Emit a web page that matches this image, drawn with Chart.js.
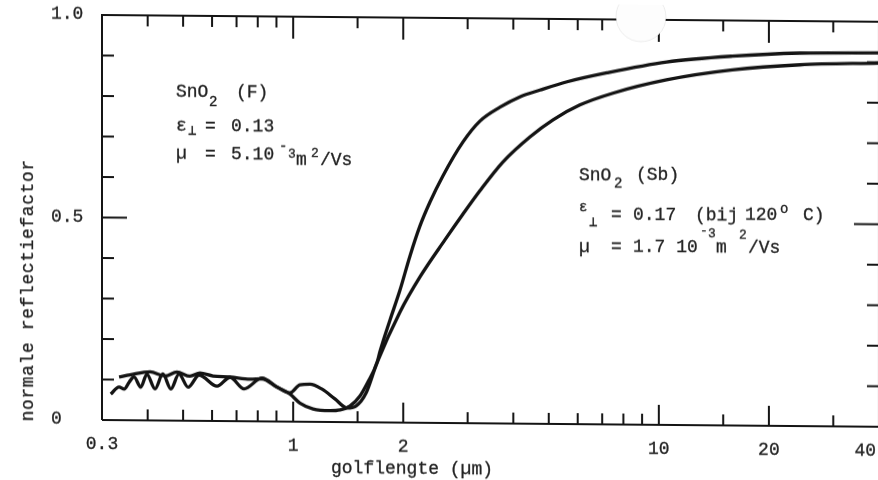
<!DOCTYPE html>
<html>
<head>
<meta charset="utf-8">
<script src="https://cdn.jsdelivr.net/npm/chart.js@4.4.1/dist/chart.umd.min.js"></script>
<style>
  html, body { margin: 0; padding: 0; background: #fff; overflow: hidden; }
  #wrap { width: 878px; height: 480px; overflow: hidden; }
  /* the typed sheet sits a little crooked on the scanner */
  canvas { display: block; transform: skewY(0.5deg); transform-origin: 102px 0; }
</style>
</head>
<body>
<div id="wrap"><canvas id="refl" width="884" height="480"></canvas></div>
<script>
// wavelength in µm, normal reflectance (0..1)
const lambdaF = [0.317, 0.334, 0.345, 0.356, 0.367, 0.383, 0.398, 0.419, 0.440, 0.463, 0.487, 0.516, 0.553,
  0.619, 0.672, 0.734, 0.822, 0.903, 0.980, 1.043, 1.133, 1.261, 1.343, 1.430, 1.523, 1.602, 1.695, 1.726,
  1.840, 1.959, 2.087, 2.222, 2.366, 2.567, 2.912, 3.24, 3.68, 4.17, 4.73, 5.61, 7.21, 10.5, 15.9, 24.3, 40];
const reflF = [0.064, 0.082, 0.077, 0.094, 0.107, 0.082, 0.114, 0.078, 0.115, 0.078, 0.115, 0.083, 0.113,
  0.086, 0.108, 0.080, 0.107, 0.085, 0.068, 0.046, 0.032, 0.028, 0.030, 0.040, 0.065, 0.100, 0.147, 0.174,
  0.253, 0.327, 0.412, 0.486, 0.545, 0.610, 0.694, 0.746, 0.781, 0.807, 0.824, 0.845, 0.868, 0.896, 0.912,
  0.921, 0.923];

const lambdaSb = [0.334, 0.358, 0.406, 0.446, 0.481, 0.522, 0.556, 0.604, 0.672, 0.762, 0.822, 0.903, 0.980,
  1.043, 1.112, 1.199, 1.301, 1.403, 1.485, 1.582, 1.695, 1.959, 2.222, 2.600, 2.912, 3.24, 3.75, 4.44,
  5.14, 6.08, 7.49, 10.5, 15.9, 24.3, 40];
const reflSb = [0.1065, 0.112, 0.120, 0.110, 0.120, 0.110, 0.118, 0.111, 0.109, 0.104, 0.105, 0.085, 0.071,
  0.091, 0.093, 0.081, 0.057, 0.035, 0.040, 0.072, 0.147, 0.273, 0.360, 0.452, 0.516, 0.574, 0.646, 0.708,
  0.751, 0.788, 0.818, 0.852, 0.878, 0.892, 0.898];

// axis ticks
const xLabelValues = [0.3, 1, 2, 10, 20, 40];
const xLabelText = ['0.3', '1', '2', '10', '20', '40'];
const xMajorTicks = [1, 2, 10, 20];
const xMinorTicks = [0.4, 0.5, 0.6, 0.7, 0.8, 0.9, 1.5, 3, 4, 5, 6, 7, 8, 9, 15, 30];
const yLabelValues = [0, 0.5, 1];
const yLabelText = ['0', '0.5', '1.0'];
const yMajorTicks = [0.5];
const yMinorTicks = [0.1, 0.2, 0.3, 0.4, 0.6, 0.7, 0.8, 0.9];

const INK = '#141414';
const TYPE = '#222';
const MONO = "'Liberation Mono', 'DejaVu Sans Mono', monospace";

// typed notes: plain, sub- and superscript pieces
const notes = [
  { t: 'SnO', x: 176, y: 96, s: 18 }, { t: '2', x: 209, y: 105, s: 14 }, { t: '(F)', x: 236, y: 96, s: 18 },
  { t: 'ε', x: 176, y: 130, s: 18 }, { t: '⊥', x: 188, y: 134, s: 14 }, { t: '=', x: 205, y: 130, s: 18 },
  { t: '0.13', x: 231, y: 130, s: 18 },
  { t: 'µ', x: 176, y: 158, s: 18 }, { t: '=', x: 205, y: 158, s: 18 }, { t: '5.10', x: 231, y: 158, s: 18 },
  { t: '-', x: 279, y: 149, s: 14 }, { t: '3', x: 288, y: 156, s: 13 }, { t: 'm', x: 296, y: 163, s: 18 },
  { t: '2', x: 311, y: 155, s: 13 }, { t: '/Vs', x: 320, y: 163, s: 18 },

  { t: 'SnO', x: 579, y: 176, s: 18 }, { t: '2', x: 614, y: 183, s: 14 }, { t: '(Sb)', x: 636, y: 175, s: 18 },
  { t: 'ε', x: 579, y: 207, s: 14 }, { t: '⊥', x: 589, y: 222, s: 14 }, { t: '=', x: 611, y: 215, s: 18 },
  { t: '0.17', x: 633, y: 215, s: 18 }, { t: '(bij', x: 695, y: 215, s: 18 }, { t: '120', x: 745, y: 214, s: 18 },
  { t: 'o', x: 780, y: 207, s: 14 }, { t: 'C)', x: 803, y: 214, s: 18 },
  { t: 'µ', x: 579, y: 248, s: 18 }, { t: '=', x: 611, y: 247, s: 18 }, { t: '1.7 10', x: 633, y: 247, s: 18 },
  { t: '-', x: 700, y: 229, s: 13 }, { t: '3', x: 708, y: 232, s: 13 }, { t: 'm', x: 716, y: 247, s: 18 },
  { t: '2', x: 739, y: 233, s: 13 }, { t: '/Vs', x: 748, y: 247, s: 18 }
];

// typewriter ink: fill plus a hairline stroke so the letters sit heavier
function type(ctx, text, x, y) {
  ctx.fillText(text, x, y);
  ctx.strokeText(text, x, y);
}

const paper = {
  id: 'paper',
  afterDraw(chart) {
    const { ctx, chartArea: a, scales: { x, y } } = chart;
    ctx.save();

    // frame and inward ticks
    ctx.strokeStyle = INK;
    ctx.lineWidth = 2;
    ctx.beginPath();
    ctx.moveTo(a.left, a.bottom); ctx.lineTo(a.left, a.top); ctx.lineTo(a.right, a.top);
    ctx.lineTo(a.right, a.bottom); ctx.lineTo(a.left, a.bottom);
    const tick = (x1, y1, x2, y2) => { ctx.moveTo(x1, y1); ctx.lineTo(x2, y2); };
    xMinorTicks.forEach(v => {
      const px = x.getPixelForValue(v);
      tick(px, a.bottom, px, a.bottom - 11);
      tick(px, a.top, px, a.top + 11);
    });
    xMajorTicks.forEach(v => {
      const px = x.getPixelForValue(v);
      tick(px, a.bottom, px, a.bottom - 20);
      tick(px, a.top, px, a.top + 22);
    });
    yMinorTicks.forEach(v => {
      const py = y.getPixelForValue(v);
      tick(a.left, py, a.left + 12, py);
      tick(a.right, py, a.right - 12, py);
    });
    yMajorTicks.forEach(v => {
      const py = y.getPixelForValue(v);
      tick(a.left, py, a.left + 25, py);
      tick(a.right, py, a.right - 25, py);
    });
    ctx.stroke();

    // tick labels
    ctx.fillStyle = TYPE;
    ctx.strokeStyle = TYPE;
    ctx.lineWidth = 0.3;
    ctx.font = '18px ' + MONO;
    ctx.textBaseline = 'alphabetic';
    xLabelValues.forEach((v, i) => {
      const w = ctx.measureText(xLabelText[i]).width;
      const px = Math.min(x.getPixelForValue(v), 876 - w / 2);
      ctx.textAlign = 'center';
      type(ctx, xLabelText[i], px, a.bottom + 29);
    });
    yLabelValues.forEach((v, i) => {
      ctx.textAlign = 'left';
      type(ctx, yLabelText[i], 51, y.getPixelForValue(v) + 4);
    });

    // axis titles
    ctx.textAlign = 'center';
    type(ctx, 'golflengte (µm)', 412, 471);
    ctx.save();
    ctx.translate(33, 291);
    ctx.rotate(-Math.PI / 2);
    ctx.letterSpacing = '0.6px';
    type(ctx, 'normale reflectiefactor', 0, 0);
    ctx.restore();

    // notes beside the curves
    ctx.textAlign = 'left';
    notes.forEach(n => {
      ctx.font = n.s + 'px ' + MONO;
      type(ctx, n.t, n.x, n.y);
    });

    // worn spot on the sheet over the top axis
    ctx.beginPath();
    ctx.arc(641, 12, 25, 0, Math.PI * 2);
    ctx.fillStyle = '#fdfdfd';
    ctx.fill();
    ctx.strokeStyle = 'rgba(0,0,0,0.07)';
    ctx.lineWidth = 1;
    ctx.stroke();

    ctx.restore();
  }
};

const curve = (xs, ys) => xs.map((l, i) => ({ x: l, y: ys[i] }));

new Chart(document.getElementById('refl'), {
  type: 'line',
  data: {
    datasets: [
      { label: 'SnO2 (F)', data: curve(lambdaF, reflF) },
      { label: 'SnO2 (Sb)', data: curve(lambdaSb, reflSb) }
    ]
  },
  options: {
    responsive: false,
    animation: false,
    events: [],
    layout: { padding: { left: 102, top: 15, right: 5, bottom: 60 } },
    elements: {
      point: { radius: 0 },
      line: { borderColor: INK, borderWidth: 3.3, cubicInterpolationMode: 'monotone', fill: false }
    },
    plugins: { legend: { display: false }, tooltip: { enabled: false } },
    scales: {
      x: { type: 'logarithmic', min: 0.3, max: 40, display: false },
      y: { type: 'linear', min: 0, max: 1, display: false }
    }
  },
  plugins: [paper]
});
</script>
</body>
</html>
